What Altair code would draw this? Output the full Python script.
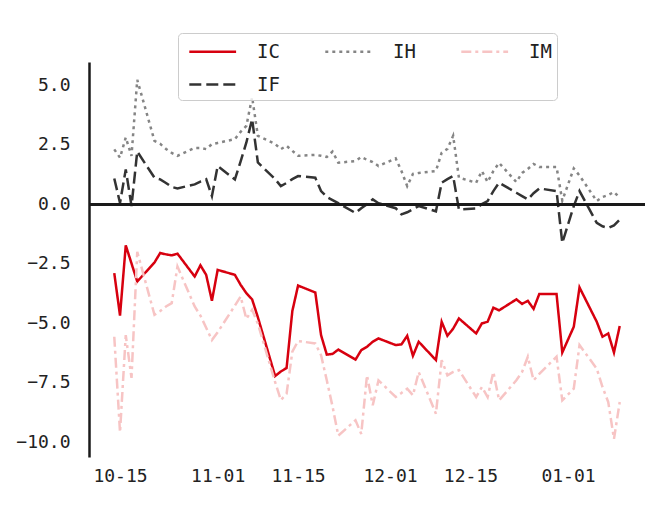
import altair as alt
import pandas as pd

dates = [
    "2024-10-14", "2024-10-15", "2024-10-16", "2024-10-17", "2024-10-18",
    "2024-10-21", "2024-10-22", "2024-10-23", "2024-10-24", "2024-10-25",
    "2024-10-28", "2024-10-29", "2024-10-30", "2024-10-31", "2024-11-01",
    "2024-11-04", "2024-11-05", "2024-11-06", "2024-11-07", "2024-11-08",
    "2024-11-11", "2024-11-12", "2024-11-13", "2024-11-14", "2024-11-15",
    "2024-11-18", "2024-11-19", "2024-11-20", "2024-11-21", "2024-11-22",
    "2024-11-25", "2024-11-26", "2024-11-27", "2024-11-28", "2024-11-29",
    "2024-12-02", "2024-12-03", "2024-12-04", "2024-12-05", "2024-12-06",
    "2024-12-09", "2024-12-10", "2024-12-11", "2024-12-12", "2024-12-13",
    "2024-12-16", "2024-12-17", "2024-12-18", "2024-12-19", "2024-12-20",
    "2024-12-23", "2024-12-24", "2024-12-25", "2024-12-26", "2024-12-27",
    "2024-12-30", "2024-12-31", "2025-01-02", "2025-01-03",
    "2025-01-06", "2025-01-07", "2025-01-08", "2025-01-09", "2025-01-10",
]

IC = [-2.90, -4.68, -1.73, -2.49, -3.25, -2.45, -2.05, -2.11, -2.15, -2.08,
      -3.04, -2.57, -2.97, -4.06, -2.76, -2.97, -3.39, -3.74, -4.00, -4.75,
      -7.22, -7.03, -6.88, -4.49, -3.42, -3.71, -5.50, -6.32, -6.29, -6.11,
      -6.53, -6.13, -5.99, -5.78, -5.64, -5.92, -5.89, -5.53, -6.37, -5.78,
      -6.55, -4.94, -5.53, -5.23, -4.80, -5.43, -5.01, -4.94, -4.35, -4.46,
      -4.00, -4.19, -4.06, -4.40, -3.77, -3.77, -6.23, -5.15, -3.50,
      -4.94, -5.57, -5.43, -6.23, -5.12]

IF = [1.08, 0.05, 1.46, -0.08, 2.21, 1.11, 1.04, 0.89, 0.72, 0.66,
      0.83, 0.95, 1.05, 0.34, 1.60, 1.04, 1.80, 2.59, 3.57, 1.75,
      1.05, 0.76, 0.89, 1.05, 1.18, 1.11, 0.55, 0.30, 0.17, 0.04,
      -0.37, -0.17, 0.00, 0.20, 0.04, -0.17, -0.43, -0.34, -0.21, -0.08,
      -0.30, 0.90, 1.05, 1.18, -0.22, -0.18, 0.00, 0.13, 0.55, 0.90,
      0.48, 0.34, 0.20, 0.46, 0.66, 0.55, -1.63, -0.08, 0.55,
      -0.79, -0.93, -1.00, -0.89, -0.65]

IH = [2.30, 1.95, 2.80, 2.03, 5.22, 2.66, 2.53, 2.32, 2.15, 2.03,
      2.36, 2.36, 2.31, 2.52, 2.57, 2.73, 3.04, 3.29, 4.49, 2.87,
      2.53, 2.31, 2.45, 2.24, 2.03, 2.07, 2.03, 1.98, 2.21, 1.74,
      1.81, 1.98, 1.86, 1.77, 1.60, 1.92, 1.39, 0.76, 1.27, 1.31,
      1.39, 2.16, 2.32, 2.87, 1.11, 0.90, 1.39, 0.93, 1.39, 1.73,
      0.93, 1.31, 1.48, 1.69, 1.56, 1.56, 0.15, 1.50, 1.20,
      0.13, 0.30, 0.38, 0.51, 0.27]

IM = [-5.57, -9.58, -5.50, -7.30, -2.00, -4.65, -4.49, -4.30, -4.16, -2.62,
      -4.30, -4.68, -5.19, -5.71, -5.38, -4.26, -3.88, -4.82, -4.44, -5.02,
      -7.47, -8.23, -7.96, -6.20, -5.75, -5.85, -6.34, -7.40, -8.50, -9.72,
      -9.08, -9.65, -7.19, -8.45, -7.40, -8.10, -7.93, -7.75, -8.03, -7.05,
      -8.80, -6.55, -7.19, -7.05, -6.97, -8.10, -7.68, -8.10, -7.05, -8.24,
      -7.40, -7.05, -6.41, -7.40, -7.13, -6.41, -8.24, -7.75, -5.92,
      -6.91, -7.68, -8.31, -9.86, -8.31]

series_names = ["IC", "IH", "IM", "IF"]
series_colors = ["#d7000f", "#858585", "#f7c4c4", "#333333"]
series_dashes = [[1, 0], [3, 4], [10, 4, 3, 4], [12, 5]]
y_ticks = [-10, -7.5, -5, -2.5, 0, 2.5, 5]

rows = []
for name, vals in [("IC", IC), ("IF", IF), ("IH", IH), ("IM", IM)]:
    for d, v in zip(dates, vals):
        rows.append({"date": d + "T00:00:00", "value": v, "series": name})
df = pd.DataFrame(rows)

FONT = "DejaVu Sans Mono"

x_ticks = [
    alt.DateTime(year=2024, month=10, date=15),
    alt.DateTime(year=2024, month=11, date=1),
    alt.DateTime(year=2024, month=11, date=15),
    alt.DateTime(year=2024, month=12, date=1),
    alt.DateTime(year=2024, month=12, date=15),
    alt.DateTime(year=2025, month=1, date=1),
]

legend = alt.Legend(
    orient="none", legendX=89, legendY=-29, columns=3, direction="horizontal",
    title=None, values=series_names,
    symbolType="M-0.6,0L3.3,0", symbolSize=576, symbolStrokeWidth=2.5,
    labelFont=FONT, labelFontSize=19, labelColor="#222222", labelOffset=47,
    columnPadding=39, rowPadding=9, padding=5,
    strokeColor="#cccccc", fillColor="rgba(255,255,255,0.8)", cornerRadius=4,
)

lines = alt.Chart(df).mark_line(strokeWidth=2.5).encode(
    x=alt.X("date:T",
            scale=alt.Scale(domain=[
                alt.DateTime(year=2024, month=10, date=9, hours=14, minutes=24),
                alt.DateTime(year=2025, month=1, date=14, hours=9, minutes=36)]),
            axis=alt.Axis(title=None, values=x_ticks, format="%m-%d",
                          domain=False, ticks=False, grid=False,
                          labelFont=FONT, labelFontSize=18, labelColor="#222222",
                          labelPadding=10)),
    y=alt.Y("value:Q",
            scale=alt.Scale(domain=[-10.62, 5.97], nice=False, zero=False),
            axis=alt.Axis(title=None, values=y_ticks, format=".1f",
                          domainColor="#1a1a1a", domainWidth=2.5,
                          ticks=False, grid=False,
                          labelFont=FONT, labelFontSize=18, labelColor="#222222",
                          labelPadding=19)),
    color=alt.Color("series:N",
                    scale=alt.Scale(domain=series_names, range=series_colors),
                    legend=legend),
    strokeDash=alt.StrokeDash("series:N",
                              scale=alt.Scale(domain=series_names, range=series_dashes),
                              legend=legend),
)

zero = alt.Chart(df).mark_rule(color="#1a1a1a", strokeWidth=2.5).encode(
    y=alt.datum(0)
)

chart = alt.layer(lines, zero).properties(
    width=556, height=395,
    autosize=alt.AutoSizeParams(type="none"),
    padding={"left": 81, "top": 54, "right": 8, "bottom": 55},
).configure_view(stroke=None)

chart.save("out.html", embed_options={"renderer": "svg", "actions": False})
